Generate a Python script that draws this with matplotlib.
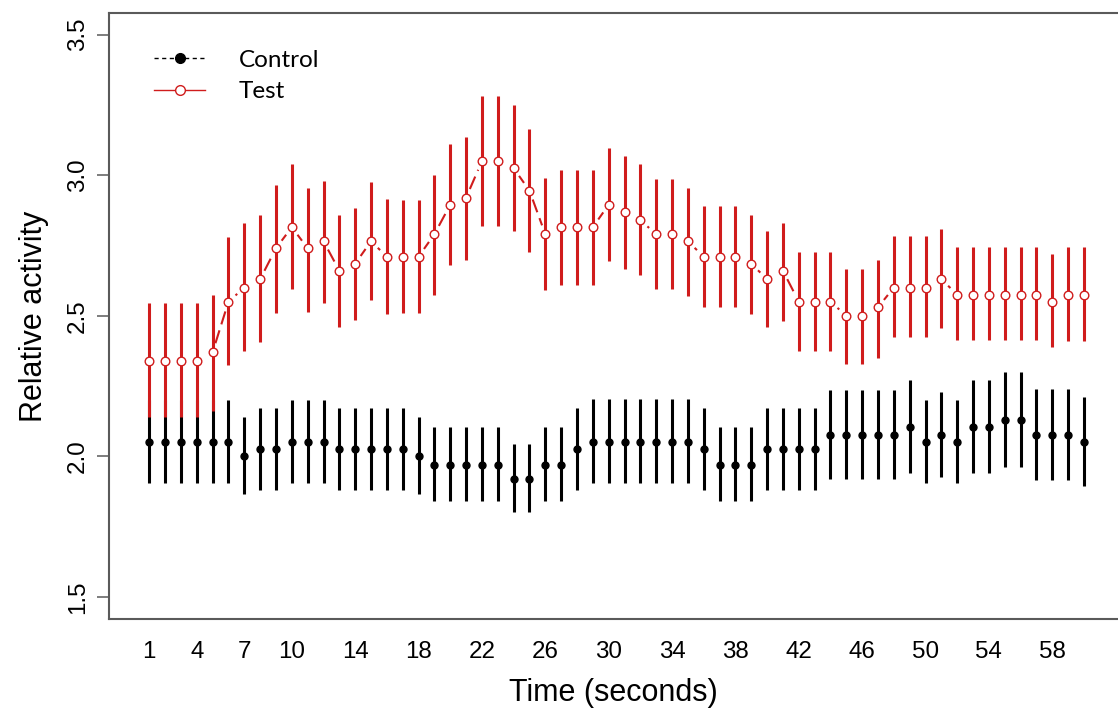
import numpy as np
import matplotlib.pyplot as plt
from matplotlib.lines import Line2D
from matplotlib.collections import LineCollection

# data (seconds 1..60)
time = np.arange(1, 61)

control_mean = [2.05, 2.05, 2.05, 2.05, 2.05, 2.05, 2.00, 2.025, 2.025, 2.05,
                2.05, 2.05, 2.025, 2.025, 2.025, 2.025, 2.025, 2.00, 1.97, 1.97,
                1.97, 1.97, 1.97, 1.92, 1.92, 1.97, 1.97, 2.025, 2.05, 2.05,
                2.05, 2.05, 2.05, 2.05, 2.05, 2.025, 1.97, 1.97, 1.97, 2.025,
                2.025, 2.025, 2.025, 2.075, 2.075, 2.075, 2.075, 2.075, 2.105, 2.05,
                2.075, 2.05, 2.105, 2.105, 2.13, 2.13, 2.075, 2.075, 2.075, 2.05]
control_hi = [2.20, 2.20, 2.20, 2.20, 2.20, 2.20, 2.14, 2.17, 2.17, 2.20,
              2.20, 2.20, 2.17, 2.17, 2.17, 2.17, 2.17, 2.14, 2.105, 2.105,
              2.105, 2.105, 2.105, 2.045, 2.045, 2.105, 2.105, 2.17, 2.205, 2.205,
              2.205, 2.205, 2.205, 2.205, 2.205, 2.17, 2.105, 2.105, 2.105, 2.17,
              2.17, 2.17, 2.17, 2.235, 2.235, 2.235, 2.235, 2.235, 2.27, 2.20,
              2.23, 2.20, 2.27, 2.27, 2.30, 2.30, 2.24, 2.24, 2.24, 2.21]
control_lo = [1.905, 1.905, 1.905, 1.905, 1.905, 1.905, 1.865, 1.88, 1.88, 1.905,
              1.905, 1.905, 1.88, 1.88, 1.88, 1.88, 1.88, 1.865, 1.84, 1.84,
              1.84, 1.84, 1.84, 1.80, 1.80, 1.84, 1.84, 1.88, 1.905, 1.905,
              1.905, 1.905, 1.905, 1.905, 1.905, 1.88, 1.84, 1.84, 1.84, 1.88,
              1.88, 1.88, 1.88, 1.92, 1.92, 1.92, 1.92, 1.92, 1.94, 1.905,
              1.925, 1.905, 1.94, 1.94, 1.96, 1.96, 1.915, 1.915, 1.915, 1.895]

test_mean = [2.34, 2.34, 2.34, 2.34, 2.37, 2.55, 2.60, 2.63, 2.74, 2.815,
             2.74, 2.765, 2.66, 2.685, 2.765, 2.71, 2.71, 2.71, 2.79, 2.895,
             2.92, 3.05, 3.05, 3.025, 2.945, 2.79, 2.815, 2.815, 2.815, 2.895,
             2.87, 2.84, 2.79, 2.79, 2.765, 2.71, 2.71, 2.71, 2.685, 2.63,
             2.66, 2.55, 2.55, 2.55, 2.50, 2.50, 2.53, 2.60, 2.60, 2.60,
             2.63, 2.575, 2.575, 2.575, 2.575, 2.575, 2.575, 2.55, 2.575, 2.575]
test_hi = [2.545, 2.545, 2.545, 2.545, 2.575, 2.78, 2.83, 2.86, 2.965, 3.04,
           2.955, 2.98, 2.86, 2.885, 2.975, 2.915, 2.91, 2.91, 3.00, 3.11,
           3.135, 3.28, 3.28, 3.25, 3.165, 2.99, 3.02, 3.02, 3.02, 3.095,
           3.07, 3.04, 2.985, 2.985, 2.955, 2.89, 2.89, 2.89, 2.86, 2.80,
           2.83, 2.725, 2.725, 2.725, 2.665, 2.665, 2.70, 2.785, 2.785, 2.785,
           2.81, 2.745, 2.745, 2.745, 2.745, 2.745, 2.745, 2.72, 2.745, 2.745]
test_lo = [2.14, 2.14, 2.14, 2.14, 2.16, 2.325, 2.375, 2.405, 2.51, 2.595,
           2.515, 2.545, 2.46, 2.485, 2.555, 2.505, 2.51, 2.51, 2.575, 2.68,
           2.70, 2.82, 2.82, 2.80, 2.725, 2.59, 2.61, 2.61, 2.61, 2.695,
           2.665, 2.645, 2.595, 2.595, 2.57, 2.53, 2.53, 2.53, 2.505, 2.46,
           2.48, 2.375, 2.375, 2.375, 2.33, 2.33, 2.35, 2.425, 2.425, 2.425,
           2.455, 2.415, 2.415, 2.415, 2.415, 2.415, 2.415, 2.39, 2.41, 2.41]

xtick_vals = [1, 4, 7, 10, 14, 18, 22, 26, 30, 34, 38, 42, 46, 50, 54, 58]
ytick_vals = [1.5, 2.0, 2.5, 3.0, 3.5]

red = '#d01c1c'
axis_col = '#5a5a5a'

plt.rcParams['font.family'] = ['Liberation Sans', 'DejaVu Sans']

fig = plt.figure(figsize=(11.18, 7.13), dpi=100)
ax = fig.add_axes([109/1118, 1 - 619/713, 1 - 109/1118, 606/713])
ax.set_xlim(-1.54, 62.15)
ax.set_ylim(1.421, 3.577)

# control: bars + filled dots
ax.vlines(time, control_lo, control_hi, color='black', lw=2.2, zorder=2)
ax.plot(time, control_mean, 'o', color='black', ms=5, zorder=3)

# test: dashed connecting line with gaps round the points (like R type="b")
gap = 6.8 * fig.dpi / 72
pts = ax.transData.transform(np.column_stack([time, test_mean]))
segs = []
for p0, p1 in zip(pts[:-1], pts[1:]):
    d = p1 - p0
    L = np.hypot(*d)
    if L > 2 * gap:
        a = p0 + d / L * gap
        b = p1 - d / L * gap
        segs.append(ax.transData.inverted().transform([a, b]))
ax.add_collection(LineCollection(segs, colors=red, linewidths=1.5,
                                 linestyles=[(0, (6.5, 3))], zorder=4))

ax.vlines(time, test_lo, test_hi, color=red, lw=2.2, zorder=5)
ax.plot(time, test_mean, 'o', mfc='white', mec=red, mew=1.0, ms=6.2, zorder=6)

# axes styling
for s in ['top', 'left', 'bottom']:
    ax.spines[s].set_color(axis_col)
    ax.spines[s].set_linewidth(1.5)
ax.spines['right'].set_visible(False)

ax.set_xticks(xtick_vals)
ax.set_xticklabels([str(v) for v in xtick_vals])
ax.set_yticks(ytick_vals)
ax.set_yticklabels([f'{v:.1f}' for v in ytick_vals])
ax.tick_params(axis='x', length=0, pad=16, labelsize=17.4)
ax.tick_params(axis='y', length=8.6, width=1.1, color=axis_col, pad=6, labelsize=17.4)
plt.setp(ax.get_yticklabels(), rotation=90, va='center')

ax.set_xlabel('Time (seconds)', fontsize=22, labelpad=11)
ax.set_ylabel('Relative activity', fontsize=22, labelpad=13)

handles = [
    Line2D([], [], color='black', ls=(0, (3, 2.5)), lw=1.0, marker='o', ms=7,
           mfc='black', mec='black'),
    Line2D([], [], color=red, ls='-', lw=1.0, marker='o', ms=7,
           mfc='white', mec=red, mew=1.0),
]
ax.legend(handles, ['Control', 'Test'], loc='upper left',
          bbox_to_anchor=(0.0446, 0.939), frameon=False, borderpad=0,
          borderaxespad=0, handlelength=2.1, handletextpad=1.4,
          labelspacing=0.42, prop={'family': 'Lato', 'size': 17.5})

fig.savefig('out.png', dpi=100)
